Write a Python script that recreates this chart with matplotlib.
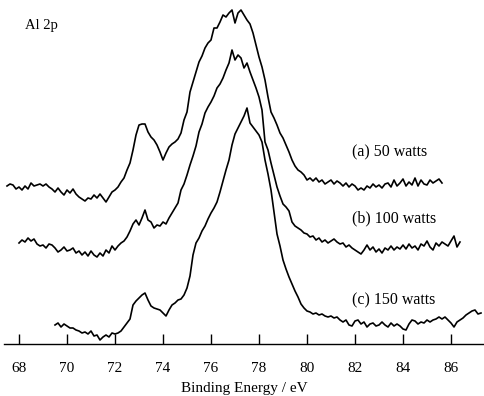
import matplotlib
matplotlib.use('Agg')
import matplotlib.pyplot as plt
import numpy as np

# XPS Al 2p spectra, intensity in arbitrary units (stacked, offset already in the data)
step = 0.125

start_a = 67.5
counts_a = [158, 160, 159, 155, 157, 154, 158, 155, 161, 158,
            159, 160, 158, 160, 157, 155, 152, 156, 152, 149,
            154, 151, 155, 150, 147, 145, 143, 146, 145, 149,
            146, 150, 146, 142, 147, 152, 154, 157, 162, 166,
            174, 181, 194, 209, 219, 220, 220, 212, 207, 204,
            199, 192, 184, 191, 197, 200, 202, 205, 211, 224,
            232, 252, 262, 272, 282, 288, 296, 301, 304, 316,
            316, 322, 329, 327, 331, 334, 321, 331, 334, 329,
            324, 320, 311, 299, 287, 277, 264, 247, 232, 226,
            219, 211, 206, 199, 192, 184, 178, 174, 172, 169,
            164, 166, 163, 166, 162, 164, 160, 162, 164, 160,
            163, 161, 158, 161, 157, 160, 158, 154, 156, 154,
            158, 156, 160, 157, 159, 156, 160, 161, 157, 164,
            158, 161, 165, 158, 162, 159, 166, 158, 164, 160,
            159, 164, 161, 163, 165, 161]

start_b = 68.0
counts_b = [101, 104, 102, 106, 103, 105, 100, 98, 99, 96,
            100, 99, 96, 92, 94, 97, 93, 94, 96, 91,
            93, 89, 92, 88, 93, 89, 87, 91, 88, 94,
            91, 98, 94, 98, 101, 103, 107, 113, 120, 124,
            119, 126, 134, 124, 122, 116, 119, 118, 122, 120,
            126, 131, 136, 141, 154, 160, 169, 179, 188, 198,
            212, 220, 231, 237, 242, 248, 256, 260, 266, 274,
            281, 294, 284, 289, 286, 276, 281, 272, 264, 256,
            247, 234, 202, 194, 181, 169, 157, 148, 140, 137,
            133, 122, 118, 116, 114, 111, 110, 107, 108, 104,
            106, 102, 104, 101, 103, 105, 102, 100, 101, 97,
            99, 96, 94, 92, 90, 94, 99, 94, 97, 92,
            95, 91, 96, 94, 98, 94, 97, 95, 99, 95,
            100, 96, 98, 94, 100, 98, 103, 97, 94, 101,
            98, 102, 100, 98, 103, 108, 97, 102]

start_c = 69.5
counts_c = [19, 21, 17, 20, 18, 16, 16, 14, 13, 11,
            12, 10, 13, 8, 9, 4, 7, 9, 7, 11,
            10, 11, 13, 17, 21, 25, 39, 43, 46, 49,
            51, 44, 38, 36, 35, 34, 31, 28, 34, 39,
            41, 44, 45, 49, 56, 68, 89, 101, 106, 113,
            118, 125, 131, 136, 142, 152, 163, 174, 184, 199,
            210, 216, 222, 228, 236, 221, 217, 213, 209, 202,
            184, 170, 154, 132, 110, 98, 84, 75, 67, 60,
            53, 47, 40, 36, 33, 32, 30, 31, 29, 30,
            28, 27, 28, 26, 27, 24, 22, 24, 19, 18,
            23, 24, 20, 22, 17, 20, 21, 18, 19, 22,
            19, 17, 21, 18, 20, 18, 15, 14, 20, 24,
            23, 20, 22, 21, 24, 22, 24, 25, 27, 25,
            27, 24, 21, 17, 22, 24, 26, 29, 31, 33,
            34, 30, 31]

labels = ['(a) 50 watts', '(b) 100 watts', '(c) 150 watts']
xticks = [68, 70, 72, 74, 76, 78, 80, 82, 84, 86]

plt.rcParams['font.family'] = ['Liberation Serif', 'DejaVu Serif']

fig = plt.figure(figsize=(4.84, 3.96), dpi=100)
ax = fig.add_axes([4 / 484, 52 / 396, 480 / 484, 344 / 396])

for start, counts in [(start_a, counts_a), (start_b, counts_b), (start_c, counts_c)]:
    energy = start + step * np.arange(len(counts))
    ax.plot(energy, counts, color='black', lw=1.2)

ax.set_xlim(67.375, 87.375)
ax.set_ylim(0, 344)

# only the bottom axis is drawn, ticks point up into the plot
for side in ['top', 'left', 'right']:
    ax.spines[side].set_visible(False)
ax.spines['bottom'].set_linewidth(1.0)
ax.set_yticks([])
ax.set_xticks(xticks)
ax.tick_params(axis='x', direction='in', length=7, width=1.0, pad=13, labelsize=11)
ax.set_xlabel('Binding Energy / eV', fontsize=11, labelpad=5)

ax.text(68.25, 319, 'Al 2p', fontsize=10.5, va='center', ha='left')
ax.text(81.875, 192, labels[0], fontsize=11.5, va='center', ha='left')
ax.text(81.875, 126, labels[1], fontsize=11.5, va='center', ha='left')
ax.text(81.875, 44, labels[2], fontsize=11.5, va='center', ha='left')

fig.savefig('out.png', dpi=100)
